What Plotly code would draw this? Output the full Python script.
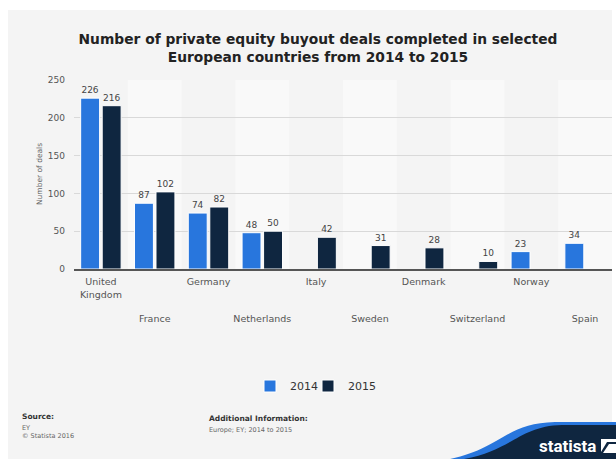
import plotly.graph_objects as go

categories = ["United Kingdom", "France", "Germany", "Netherlands", "Italy",
              "Sweden", "Denmark", "Switzerland", "Norway", "Spain"]
tick_labels = ["United<br>Kingdom", "France", "Germany", "Netherlands", "Italy",
               "Sweden", "Denmark", "Switzerland", "Norway", "Spain"]
deals_2014 = [226, 87, 74, 48, None, None, None, None, 23, 34]
deals_2015 = [216, 102, 82, 50, 42, 31, 28, 10, None, None]
y_ticks = [0, 50, 100, 150, 200, 250]

W, H = 616, 459
L, R, T, B = 74, 612, 80, 269  # plot area in pixels

def px(x):
    return (x - L) / (R - L)

def py(y):
    return (B - y) / (B - T)

BLUE = "#2876dd"
NAVY = "#0f2640"
FONT = "DejaVu Sans"

fig = go.Figure()
idx = list(range(len(categories)))
fig.add_trace(go.Bar(
    x=idx, y=deals_2014, name="2014", legend="legend",
    marker=dict(color=BLUE, line=dict(color="white", width=1)),
    text=deals_2014, texttemplate="%{y}", textposition="outside", cliponaxis=False,
    textfont=dict(size=9, color="#444", family=FONT)))
fig.add_trace(go.Bar(
    x=idx, y=deals_2015, name="2015", legend="legend2",
    marker=dict(color=NAVY, line=dict(color="white", width=1)),
    text=deals_2015, texttemplate="%{y}", textposition="outside", cliponaxis=False,
    textfont=dict(size=9, color="#444", family=FONT)))

ticktext = [t if i % 2 == 0 else "\u00a0<br>\u00a0<br>\u00a0<br>" + t for i, t in enumerate(tick_labels)]

shapes = []
# gray background card
shapes.append(dict(type="rect", xref="paper", yref="paper", x0=px(8), x1=px(612), y0=py(10), y1=py(459),
                   fillcolor="#f4f4f4", line=dict(width=0), layer="below"))
# alternating column bands
for i in idx:
    if i % 2 == 1:
        shapes.append(dict(type="rect", xref="x", yref="paper", x0=i - 0.5, x1=i + 0.5, y0=0, y1=1,
                           fillcolor="#f9f9f9", line=dict(width=0), layer="below"))

def path(points_cmd):
    out = []
    for tok in points_cmd:
        if isinstance(tok, str):
            out.append(tok)
        else:
            out.append(f"{px(tok[0]):.5f},{py(tok[1]):.5f}")
    return " ".join(out)

# statista logo swoosh
shapes.append(dict(type="path", xref="paper", yref="paper", layer="above",
                   path=path(["M", (445, 460), "C", (500, 450), (505, 423), (555, 422),
                              "L", (617, 422), "L", (617, 460), "Z"]),
                   fillcolor=BLUE, line=dict(width=0)))
shapes.append(dict(type="path", xref="paper", yref="paper", layer="above",
                   path=path(["M", (458, 460), "C", (512, 452), (518, 426), (562, 425),
                              "L", (617, 425), "L", (617, 460), "Z"]),
                   fillcolor=NAVY, line=dict(width=0)))
# logo icon
shapes.append(dict(type="path", xref="paper", yref="paper", layer="above",
                   path=path(["M", (601, 439), "L", (617, 439), "L", (617, 442), "L", (607, 442),
                              "L", (601, 452), "Z"]),
                   fillcolor="white", line=dict(width=0)))
shapes.append(dict(type="path", xref="paper", yref="paper", layer="above",
                   path=path(["M", (603, 453), "L", (609, 444), "L", (617, 444), "L", (617, 453), "Z"]),
                   fillcolor="white", line=dict(width=0)))

annotations = [
    dict(text="Number of deals", xref="paper", yref="paper", x=px(33), y=0.5, textangle=-90,
         showarrow=False, font=dict(size=7.5, color="#666", family=FONT)),
    dict(text="<b>Source:</b>", xref="paper", yref="paper", x=px(20), y=py(416), xanchor="left",
         yanchor="middle", showarrow=False, font=dict(size=7.5, color="#333", family=FONT)),
    dict(text="EY<br>© Statista 2016", xref="paper", yref="paper", x=px(20), y=py(422), xanchor="left",
         yanchor="top", align="left", showarrow=False, font=dict(size=6.5, color="#666", family=FONT)),
    dict(text="<b>Additional Information:</b>", xref="paper", yref="paper", x=px(207), y=py(418),
         xanchor="left", yanchor="middle", showarrow=False, font=dict(size=7.5, color="#333", family=FONT)),
    dict(text="Europe; EY; 2014 to 2015", xref="paper", yref="paper", x=px(207), y=py(430),
         xanchor="left", yanchor="middle", showarrow=False, font=dict(size=6.5, color="#666", family=FONT)),
    dict(text="<b>statista</b>", xref="paper", yref="paper", x=px(598), y=py(446), xanchor="right",
         yanchor="middle", showarrow=False,
         font=dict(size=17, color="white", family="Liberation Sans Narrow, Roboto, sans-serif")),
]

legend_style = dict(orientation="h", xanchor="left", y=py(386), yanchor="middle",
                    font=dict(size=11, color="#333", family=FONT), bgcolor="rgba(0,0,0,0)",
                    itemwidth=30)

fig.update_layout(
    width=W, height=H,
    margin=dict(l=L, r=W - R, t=T, b=H - B, pad=0),
    paper_bgcolor="white", plot_bgcolor="rgba(0,0,0,0)",
    title=dict(text="<b>Number of private equity buyout deals completed in selected<br>European countries from 2014 to 2015</b>",
               xref="container", x=318 / W, xanchor="center", yref="container", y=1 - 44 / H, yanchor="middle",
               font=dict(size=13.8, color="#222", family=FONT)),
    barmode="group", bargap=0.2, bargroupgap=0.12,
    showlegend=True,
    legend=dict(x=px(250), **legend_style),
    legend2=dict(x=px(308), **legend_style),
    shapes=shapes, annotations=annotations,
    font=dict(family=FONT),
)
fig.update_xaxes(tickmode="array", tickvals=idx, ticktext=ticktext, range=[-0.5, len(categories) - 0.5],
                 showline=True, linecolor="#555", linewidth=1.5, showgrid=False, ticks="",
                 ticklabelstandoff=3,
                 tickfont=dict(size=9.5, color="#555", family=FONT), tickangle=0, fixedrange=True)
fig.update_yaxes(range=[0, 250], tickvals=y_ticks, showgrid=True, gridcolor="#d9d9d9", gridwidth=1,
                 zeroline=False, showline=False, ticks="", ticklabelstandoff=8,
                 tickfont=dict(size=9, color="#555", family=FONT))

fig.write_html("out.html", config={"displayModeBar": False},
               post_script="document.body.style.margin='0';document.body.style.overflow='hidden';")
